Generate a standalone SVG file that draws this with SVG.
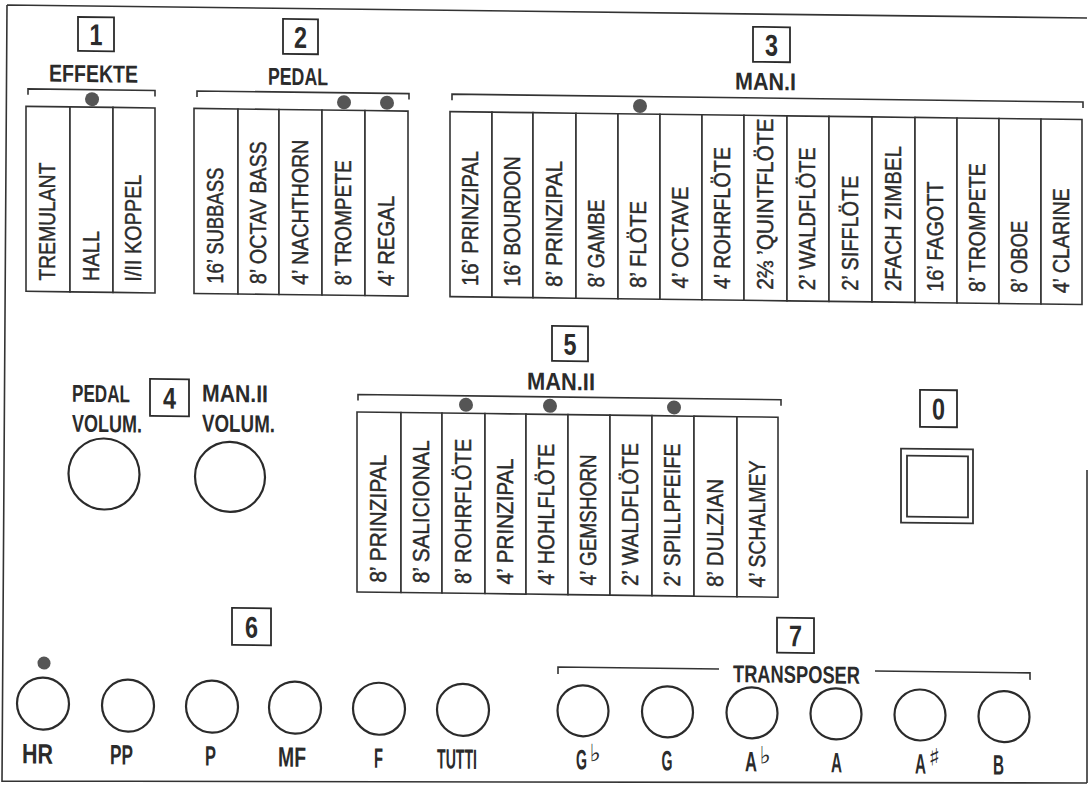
<svg xmlns="http://www.w3.org/2000/svg" width="1090" height="786" viewBox="0 0 1090 786">
<defs>
<style>
.frame{fill:none;stroke:#333;stroke-width:1.6}
.br{fill:none;stroke:#333;stroke-width:1.6}
.box{fill:#fff;stroke:#2b2b2b;stroke-width:1.8}
.col{fill:#fff;stroke:#333;stroke-width:1.6}
.dot{fill:#555}
.knob{fill:#fff;stroke:#2b2b2b;stroke-width:2.2}
.sq{fill:#fff;stroke:#333;stroke-width:1.8}
.num{font-family:"Liberation Sans",Arial,sans-serif;font-weight:bold;font-size:30px;fill:#2b2b2b}
.hd{font-family:"Liberation Sans",Arial,sans-serif;font-weight:bold;font-size:24.5px;fill:#2b2b2b}
.st{font-family:"Liberation Sans",Arial,sans-serif;font-size:23px;fill:#2b2b2b;stroke:#2b2b2b;stroke-width:0.45}
.bl{font-family:"Liberation Sans",Arial,sans-serif;font-weight:bold;font-size:28px;fill:#2b2b2b}
.acc{font-family:"DejaVu Sans",sans-serif;font-weight:bold;font-size:24px}
</style>
</defs>
<rect width="1090" height="786" fill="#fff"/>
<path class="frame" d="M7 5 L1087 18 M7 5 L2 782 M2 781 L1087 783 M1087 470 L1087 783"/>
<g transform="skewY(0.716)">

<!-- Section 1 EFFEKTE -->
<g id="sec1">
<rect class="box" x="78" y="16" width="36" height="34"/>
<text class="num" x="89.5" y="44" textLength="13" lengthAdjust="spacingAndGlyphs">1</text>
<text class="hd" x="49" y="81" textLength="89" lengthAdjust="spacingAndGlyphs">EFFEKTE</text>
<path class="br" d="M28 94.5V88.5H155V94.5"/>
<g id="s1-tremulant"><rect class="col" x="26" y="106" width="44" height="185"/><text class="st" transform="translate(55,280) rotate(-90)" textLength="118" lengthAdjust="spacingAndGlyphs">TREMULANT</text></g>
<g id="s1-hall"><rect class="col" x="70" y="106" width="43" height="185"/><text class="st" transform="translate(98.5,280) rotate(-90)" textLength="50" lengthAdjust="spacingAndGlyphs">HALL</text></g>
<g id="s1-koppel"><rect class="col" x="113" y="106" width="42" height="185"/><text class="st" transform="translate(141,280) rotate(-90)" textLength="107" lengthAdjust="spacingAndGlyphs">I/II KOPPEL</text></g>
<circle class="dot" cx="92" cy="98" r="7"/>
</g>

<!-- Section 2 PEDAL -->
<g id="sec2">
<rect class="box" x="283" y="15.3" width="35" height="35"/>
<text class="num" x="294" y="44" textLength="13" lengthAdjust="spacingAndGlyphs">2</text>
<text class="hd" x="268" y="81.3" textLength="60" lengthAdjust="spacingAndGlyphs">PEDAL</text>
<path class="br" d="M197 94.5V88.5H409V94.5"/>
<g id="s2-subbass"><rect class="col" x="194" y="106" width="44" height="185"/><text class="st" transform="translate(223,281) rotate(-90)" textLength="116" lengthAdjust="spacingAndGlyphs">16’ SUBBASS</text></g>
<g id="s2-octavbass"><rect class="col" x="238" y="106" width="41" height="185"/><text class="st" transform="translate(265.5,281) rotate(-90)" textLength="143" lengthAdjust="spacingAndGlyphs">8’ OCTAV BASS</text></g>
<g id="s2-nachthorn"><rect class="col" x="279" y="106" width="43" height="185"/><text class="st" transform="translate(307.5,281) rotate(-90)" textLength="145" lengthAdjust="spacingAndGlyphs">4’ NACHTHORN</text></g>
<g id="s2-trompete"><rect class="col" x="322" y="106" width="43" height="185"/><text class="st" transform="translate(350.5,281) rotate(-90)" textLength="125" lengthAdjust="spacingAndGlyphs">8’ TROMPETE</text></g>
<g id="s2-regal"><rect class="col" x="365" y="106" width="43" height="185"/><text class="st" transform="translate(393.5,281) rotate(-90)" textLength="90" lengthAdjust="spacingAndGlyphs">4’ REGAL</text></g>
<circle class="dot" cx="344" cy="98" r="7"/>
<circle class="dot" cx="387" cy="98" r="7"/>
</g>

<!-- Section 3 MAN.I -->
<g id="sec3">
<rect class="box" x="753" y="17.4" width="37" height="35"/>
<text class="num" x="765" y="46" textLength="13" lengthAdjust="spacingAndGlyphs">3</text>
<text class="hd" x="735" y="80.4" textLength="61" lengthAdjust="spacingAndGlyphs">MAN.I</text>
<path class="br" d="M452 94.5V88.5H1083V94.5"/>
<g id="s3-1"><rect class="col" x="450" y="106" width="42" height="185"/><text class="st" transform="translate(478,280) rotate(-90)" textLength="135" lengthAdjust="spacingAndGlyphs">16’ PRINZIPAL</text></g>
<g id="s3-2"><rect class="col" x="492" y="106" width="41" height="185"/><text class="st" transform="translate(519.5,280) rotate(-90)" textLength="130" lengthAdjust="spacingAndGlyphs">16’ BOURDON</text></g>
<g id="s3-3"><rect class="col" x="533" y="106" width="43" height="185"/><text class="st" transform="translate(561.5,280) rotate(-90)" textLength="126" lengthAdjust="spacingAndGlyphs">8’ PRINZIPAL</text></g>
<g id="s3-4"><rect class="col" x="576" y="106" width="42" height="185"/><text class="st" transform="translate(604,280) rotate(-90)" textLength="88" lengthAdjust="spacingAndGlyphs">8’ GAMBE</text></g>
<g id="s3-5"><rect class="col" x="618" y="106" width="42" height="185"/><text class="st" transform="translate(646,280) rotate(-90)" textLength="87" lengthAdjust="spacingAndGlyphs">8’ FLÖTE</text></g>
<g id="s3-6"><rect class="col" x="660" y="106" width="42" height="185"/><text class="st" transform="translate(688,280) rotate(-90)" textLength="102" lengthAdjust="spacingAndGlyphs">4’ OCTAVE</text></g>
<g id="s3-7"><rect class="col" x="702" y="106" width="42" height="185"/><text class="st" transform="translate(730,280) rotate(-90)" textLength="142" lengthAdjust="spacingAndGlyphs">4’ ROHRFLÖTE</text></g>
<g id="s3-8"><rect class="col" x="744" y="106" width="43" height="185"/><text class="st" transform="translate(772.5,280) rotate(-90)" textLength="171" lengthAdjust="spacingAndGlyphs">2⅔ ’QUINTFLÖTE</text></g>
<g id="s3-9"><rect class="col" x="787" y="106" width="42" height="185"/><text class="st" transform="translate(815,280) rotate(-90)" textLength="143" lengthAdjust="spacingAndGlyphs">2’ WALDFLÖTE</text></g>
<g id="s3-10"><rect class="col" x="829" y="106" width="43" height="185"/><text class="st" transform="translate(857.5,280) rotate(-90)" textLength="115" lengthAdjust="spacingAndGlyphs">2’ SIFFLÖTE</text></g>
<g id="s3-11"><rect class="col" x="872" y="106" width="43" height="185"/><text class="st" transform="translate(900.5,280) rotate(-90)" textLength="145" lengthAdjust="spacingAndGlyphs">2FACH ZIMBEL</text></g>
<g id="s3-12"><rect class="col" x="915" y="106" width="42" height="185"/><text class="st" transform="translate(943,280) rotate(-90)" textLength="110" lengthAdjust="spacingAndGlyphs">16’ FAGOTT</text></g>
<g id="s3-13"><rect class="col" x="957" y="106" width="42" height="185"/><text class="st" transform="translate(985,280) rotate(-90)" textLength="129" lengthAdjust="spacingAndGlyphs">8’ TROMPETE</text></g>
<g id="s3-14"><rect class="col" x="999" y="106" width="42" height="185"/><text class="st" transform="translate(1027,280) rotate(-90)" textLength="72" lengthAdjust="spacingAndGlyphs">8’ OBOE</text></g>
<g id="s3-15"><rect class="col" x="1041" y="106" width="41" height="185"/><text class="st" transform="translate(1068.5,280) rotate(-90)" textLength="105" lengthAdjust="spacingAndGlyphs">4’ CLARINE</text></g>
<circle class="dot" cx="640" cy="98" r="7"/>
</g>

<!-- Section 4 volumes -->
<g id="sec4">
<rect class="box" x="150" y="377" width="39" height="37"/>
<text class="num" x="163" y="406.5" textLength="13" lengthAdjust="spacingAndGlyphs">4</text>
<g id="pedal-volume">
<text class="hd" x="72" y="400.8" textLength="58" lengthAdjust="spacingAndGlyphs">PEDAL</text>
<text class="hd" x="72" y="430.8" textLength="70" lengthAdjust="spacingAndGlyphs">VOLUM.</text>
<circle class="knob" cx="104" cy="472.7" r="35.5"/>
</g>
<g id="man2-volume">
<text class="hd" x="202" y="399" textLength="66" lengthAdjust="spacingAndGlyphs">MAN.II</text>
<text class="hd" x="202" y="429" textLength="73" lengthAdjust="spacingAndGlyphs">VOLUM.</text>
<circle class="knob" cx="230" cy="474" r="35"/>
</g>
</g>

<!-- Section 5 MAN.II -->
<g id="sec5">
<rect class="box" x="552" y="319" width="36" height="35"/>
<text class="num" x="563.5" y="347.5" textLength="13" lengthAdjust="spacingAndGlyphs">5</text>
<text class="hd" x="527" y="383" textLength="68" lengthAdjust="spacingAndGlyphs">MAN.II</text>
<path class="br" d="M358 396V390H781V396"/>
<g id="s5-1"><rect class="col" x="357" y="407.5" width="44" height="180"/><text class="st" transform="translate(386,578) rotate(-90)" textLength="128" lengthAdjust="spacingAndGlyphs">8’ PRINZIPAL</text></g>
<g id="s5-2"><rect class="col" x="401" y="407.5" width="41" height="180"/><text class="st" transform="translate(428.5,578) rotate(-90)" textLength="143" lengthAdjust="spacingAndGlyphs">8’ SALICIONAL</text></g>
<g id="s5-3"><rect class="col" x="442" y="407.5" width="43" height="180"/><text class="st" transform="translate(470.5,578) rotate(-90)" textLength="145" lengthAdjust="spacingAndGlyphs">8’ ROHRFLÖTE</text></g>
<g id="s5-4"><rect class="col" x="485" y="407.5" width="41" height="180"/><text class="st" transform="translate(512.5,578) rotate(-90)" textLength="126" lengthAdjust="spacingAndGlyphs">4’ PRINZIPAL</text></g>
<g id="s5-5"><rect class="col" x="526" y="407.5" width="42" height="180"/><text class="st" transform="translate(554,578) rotate(-90)" textLength="141" lengthAdjust="spacingAndGlyphs">4’ HOHLFLÖTE</text></g>
<g id="s5-6"><rect class="col" x="568" y="407.5" width="42" height="180"/><text class="st" transform="translate(596,578) rotate(-90)" textLength="131" lengthAdjust="spacingAndGlyphs">4’ GEMSHORN</text></g>
<g id="s5-7"><rect class="col" x="610" y="407.5" width="42" height="180"/><text class="st" transform="translate(638,578) rotate(-90)" textLength="143" lengthAdjust="spacingAndGlyphs">2’ WALDFLÖTE</text></g>
<g id="s5-8"><rect class="col" x="652" y="407.5" width="42" height="180"/><text class="st" transform="translate(680,578) rotate(-90)" textLength="143" lengthAdjust="spacingAndGlyphs">2’ SPILLPFEIFE</text></g>
<g id="s5-9"><rect class="col" x="694" y="407.5" width="43" height="180"/><text class="st" transform="translate(722.5,578) rotate(-90)" textLength="108" lengthAdjust="spacingAndGlyphs">8’ DULZIAN</text></g>
<g id="s5-10"><rect class="col" x="737" y="407.5" width="41" height="180"/><text class="st" transform="translate(764.5,578) rotate(-90)" textLength="127" lengthAdjust="spacingAndGlyphs">4’ SCHALMEY</text></g>
<circle class="dot" cx="466" cy="399" r="7"/>
<circle class="dot" cx="550" cy="399" r="7"/>
<circle class="dot" cx="674" cy="399" r="7"/>
</g>

<!-- Section 0 -->
<g id="sec0">
<rect class="box" x="920" y="378.3" width="37" height="37"/>
<text class="num" x="932" y="407.5" textLength="13" lengthAdjust="spacingAndGlyphs">0</text>
<g id="s0-button">
<rect class="sq" x="901" y="437.3" width="72" height="74"/>
<rect class="sq" x="907" y="444.3" width="61" height="61"/>
</g>
</g>

<!-- Section 6 registrations -->
<g id="sec6">
<rect class="box" x="232" y="605" width="39" height="37"/>
<text class="num" x="245" y="634.5" textLength="13" lengthAdjust="spacingAndGlyphs">6</text>
<circle class="dot" cx="44" cy="662.5" r="6.5"/>
<g id="k-hr"><circle class="knob" cx="43" cy="703" r="26"/><text class="bl" x="22" y="763" textLength="31" lengthAdjust="spacingAndGlyphs">HR</text></g>
<g id="k-pp"><circle class="knob" cx="128" cy="704" r="26"/><text class="bl" x="110" y="763" textLength="23" lengthAdjust="spacingAndGlyphs">PP</text></g>
<g id="k-p"><circle class="knob" cx="212" cy="704" r="26"/><text class="bl" x="205" y="763" textLength="11" lengthAdjust="spacingAndGlyphs">P</text></g>
<g id="k-mf"><circle class="knob" cx="295" cy="704" r="26"/><text class="bl" x="278" y="763" textLength="28" lengthAdjust="spacingAndGlyphs">MF</text></g>
<g id="k-f"><circle class="knob" cx="379" cy="704" r="26"/><text class="bl" x="374" y="763" textLength="9" lengthAdjust="spacingAndGlyphs">F</text></g>
<g id="k-tutti"><circle class="knob" cx="463" cy="704" r="26"/><text class="bl" x="437" y="763" textLength="40" lengthAdjust="spacingAndGlyphs">TUTTI</text></g>
</g>

<!-- Section 7 transposer -->
<g id="sec7">
<rect class="box" x="777" y="608" width="37" height="35"/>
<text class="num" x="789" y="636.5" textLength="13" lengthAdjust="spacingAndGlyphs">7</text>
<text class="hd" x="733" y="673" textLength="127" lengthAdjust="spacingAndGlyphs">TRANSPOSER</text>
<path class="br" d="M558 667V660H719 M875 660H1030V667"/>
<g id="t-gb"><circle class="knob" cx="583" cy="703.5" r="25.5"/><text class="bl" x="576" y="762"><tspan textLength="11" lengthAdjust="spacingAndGlyphs">G</tspan><tspan class="acc" dx="2.5" dy="-8">♭</tspan></text></g>
<g id="t-g"><circle class="knob" cx="667.5" cy="703.5" r="25.5"/><text class="bl" x="661.5" y="762" textLength="11" lengthAdjust="spacingAndGlyphs">G</text></g>
<g id="t-ab"><circle class="knob" cx="752" cy="703.5" r="25.5"/><text class="bl" x="745" y="762"><tspan textLength="12" lengthAdjust="spacingAndGlyphs">A</tspan><tspan class="acc" dx="2.5" dy="-8">♭</tspan></text></g>
<g id="t-a"><circle class="knob" cx="836" cy="703.5" r="25.5"/><text class="bl" x="831" y="762" textLength="11" lengthAdjust="spacingAndGlyphs">A</text></g>
<g id="t-as"><circle class="knob" cx="920" cy="703.5" r="25.5"/><text class="bl" x="915" y="762"><tspan textLength="11" lengthAdjust="spacingAndGlyphs">A</tspan><tspan class="acc" dx="2.5" dy="-8">♯</tspan></text></g>
<g id="t-b"><circle class="knob" cx="1004" cy="704" r="25.5"/><text class="bl" x="993" y="762" textLength="11" lengthAdjust="spacingAndGlyphs">B</text></g>
</g>

</g>
</svg>
